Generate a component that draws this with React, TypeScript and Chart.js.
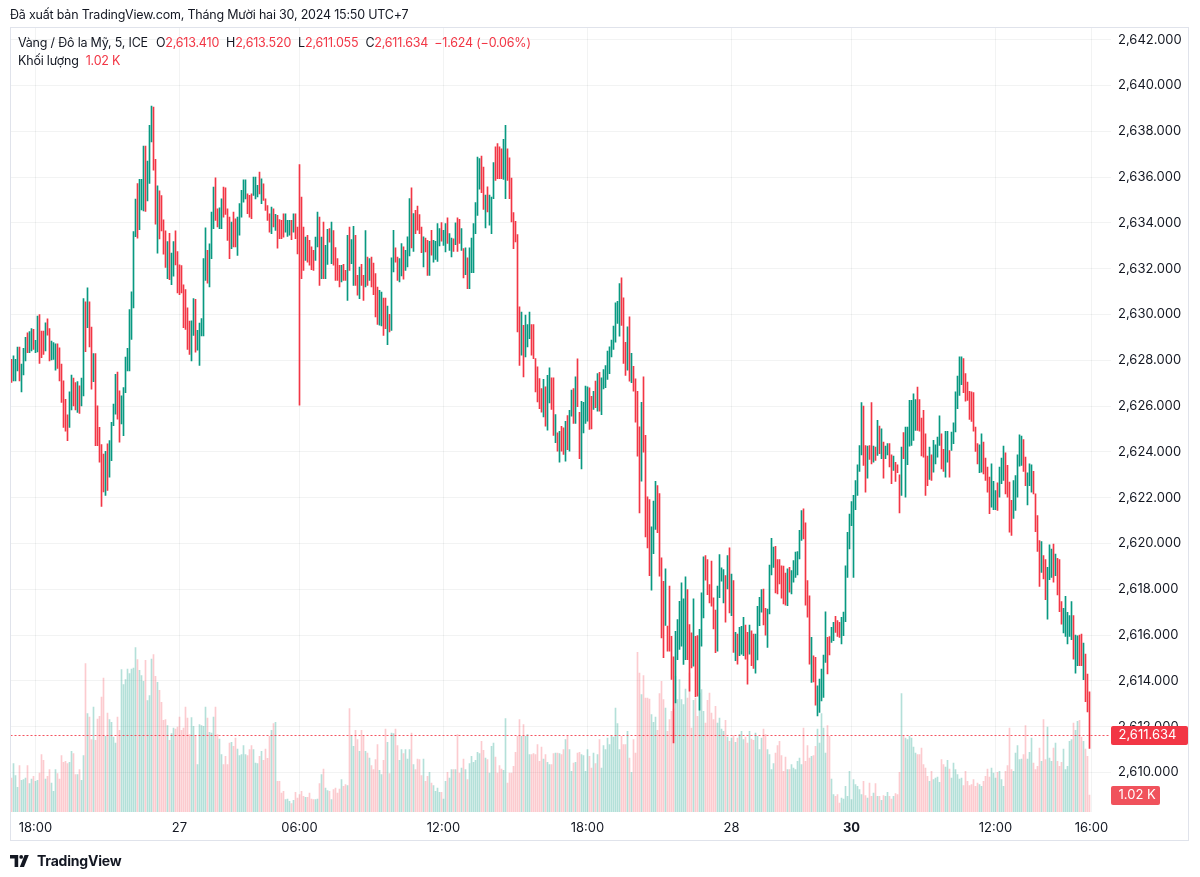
import React, { useEffect, useRef } from 'react';
import { Chart, registerables } from 'chart.js';

Chart.register(...registerables);

const UP = '#089981';
const DOWN = '#F23645';
const TEXT = '#131722';
const GRID = 'rgba(42,46,57,0.06)';
const FONT = 'Inter, "Noto Sans", sans-serif';

// 5-minute bars, Dec 26 17:00 -> Dec 30 15:50 (UTC+7)
const highs = [
  2628.04, 2628.19, 2628.04, 2628.58, 2628.58, 2627.83, 2628.52, 2629.00, 2629.20, 2629.25,
  2629.38, 2629.35, 2628.87, 2629.93, 2630.00, 2629.28, 2629.28, 2629.64, 2629.81, 2629.38,
  2628.84, 2628.77, 2628.72, 2628.72, 2628.55, 2627.83, 2627.10, 2626.30, 2625.62, 2626.62,
  2627.35, 2627.22, 2627.03, 2627.07, 2626.88, 2627.22, 2630.70, 2630.55, 2631.16, 2630.55,
  2629.45, 2628.29, 2628.29, 2626.01, 2625.07, 2624.32, 2623.91, 2624.03, 2624.35, 2624.49,
  2625.29, 2626.09, 2627.39, 2627.49, 2626.67, 2626.45, 2626.81, 2628.14, 2628.52, 2630.22,
  2630.99, 2633.62, 2635.04, 2635.72, 2635.90, 2635.90, 2637.36, 2637.36, 2636.70, 2638.26,
  2639.10, 2639.06, 2636.78, 2635.62, 2635.40, 2635.19, 2634.13, 2633.65, 2633.19, 2633.55,
  2632.68, 2633.19, 2633.65, 2632.75, 2632.17, 2632.14, 2631.30, 2631.09, 2630.29, 2629.71,
  2629.72, 2630.69, 2630.66, 2629.31, 2629.63, 2629.82, 2632.44, 2633.79, 2632.80, 2633.09,
  2634.47, 2635.56, 2635.97, 2634.62, 2634.66, 2635.05, 2635.56, 2635.53, 2634.62, 2634.25,
  2634.04, 2634.47, 2634.18, 2634.25, 2634.84, 2635.42, 2635.88, 2635.88, 2635.27, 2635.20,
  2635.27, 2636.00, 2636.00, 2635.64, 2636.22, 2635.93, 2635.71, 2635.05, 2634.76, 2634.40,
  2634.69, 2634.62, 2634.37, 2634.33, 2634.14, 2634.11, 2634.40, 2634.40, 2634.11, 2634.11,
  2634.11, 2634.40, 2634.40, 2633.82, 2636.55, 2635.13, 2633.82, 2633.38, 2633.46, 2633.24,
  2632.95, 2632.80, 2633.38, 2634.47, 2634.25, 2633.38, 2634.04, 2633.02, 2633.72, 2633.75,
  2634.04, 2633.67, 2632.92, 2632.44, 2632.15, 2632.15, 2632.19, 2631.93, 2633.46, 2633.82,
  2633.27, 2633.85, 2633.46, 2631.71, 2632.07, 2632.19, 2631.71, 2633.67, 2632.51, 2632.44,
  2632.51, 2632.25, 2631.79, 2631.20, 2631.06, 2630.98, 2630.72, 2630.72, 2630.37, 2630.01,
  2632.47, 2633.68, 2632.91, 2632.51, 2632.44, 2633.10, 2632.95, 2632.80, 2633.39, 2635.06,
  2635.53, 2634.41, 2634.55, 2634.74, 2634.36, 2633.82, 2633.39, 2633.34, 2633.24, 2633.20,
  2633.68, 2633.24, 2633.20, 2633.97, 2633.75, 2634.01, 2633.68, 2633.97, 2634.22, 2633.53,
  2633.34, 2633.31, 2634.00, 2634.22, 2634.16, 2633.75, 2632.88, 2632.91, 2632.47, 2632.91,
  2633.34, 2633.97, 2634.89, 2636.88, 2636.81, 2636.92, 2636.44, 2635.21, 2635.57, 2635.21,
  2635.13, 2636.63, 2637.32, 2637.46, 2637.32, 2637.24, 2637.65, 2638.26, 2637.24, 2636.84,
  2635.96, 2634.45, 2634.07, 2633.49, 2630.33, 2630.11, 2629.53, 2629.97, 2629.56, 2630.11,
  2629.56, 2629.56, 2628.07, 2627.71, 2627.20, 2626.76, 2627.17,
  2626.84, 2627.34, 2627.67, 2627.23, 2627.23, 2625.63, 2624.83, 2624.90, 2625.12, 2625.05,
  2625.34, 2625.59, 2625.82, 2626.70, 2626.76, 2627.28, 2628.06, 2625.73, 2626.21, 2626.17,
  2626.87, 2626.84, 2626.80, 2626.43, 2626.65, 2627.09, 2627.42, 2627.48, 2627.23, 2627.60,
  2627.77, 2628.40, 2628.59, 2628.88, 2629.49, 2630.51, 2630.58, 2631.35, 2631.60, 2630.73,
  2628.79, 2629.46, 2629.90, 2628.30, 2627.74, 2627.19, 2626.65, 2625.10, 2626.17, 2627.28,
  2624.72, 2622.04, 2621.92, 2620.73, 2621.85, 2622.72, 2622.53, 2622.18, 2619.37, 2618.35,
  2618.89, 2616.39, 2618.14, 2615.95, 2615.05, 2616.17, 2616.68, 2617.48, 2618.28, 2617.58,
  2618.54, 2617.99, 2616.46, 2616.10, 2617.58, 2615.95, 2615.98, 2616.25, 2617.85, 2619.42,
  2619.47, 2619.30, 2618.21, 2619.23, 2617.63, 2617.09, 2618.14, 2619.52, 2618.94, 2618.86,
  2618.60, 2619.47, 2619.81,
  2618.67, 2618.38, 2616.12, 2616.05, 2616.34, 2616.38, 2616.78, 2616.44, 2616.12, 2616.44,
  2616.19, 2616.05, 2616.05, 2617.26, 2617.65, 2617.99, 2618.01, 2617.17, 2617.14, 2619.06,
  2620.23, 2619.84, 2619.88, 2619.30, 2619.30, 2619.03, 2619.01, 2618.71, 2618.89, 2618.96,
  2618.82, 2619.25, 2619.62, 2619.65, 2620.57, 2621.44, 2621.51, 2620.90, 2618.38, 2617.72,
  2615.90, 2615.10, 2615.03, 2613.79, 2614.08, 2614.52, 2615.13, 2617.02, 2615.90, 2615.94,
  2616.34, 2616.56, 2616.82, 2616.63, 2616.56, 2616.78, 2617.00, 2619.03, 2620.49, 2621.29,
  2621.83, 2622.10, 2622.75, 2623.44, 2624.28, 2626.15, 2626.00, 2624.28, 2624.25, 2624.28,
  2626.15, 2624.25, 2624.21, 2625.38, 2625.13, 2625.01, 2624.43, 2624.25, 2624.36, 2624.36,
  2623.87, 2623.82, 2623.55, 2623.44, 2623.00, 2624.21, 2624.84, 2625.08, 2625.08, 2626.25,
  2626.25, 2626.54, 2626.29, 2626.83, 2626.29, 2625.48, 2625.81, 2624.79, 2623.82, 2624.21,
  2623.87, 2624.50, 2624.31, 2624.65, 2625.57, 2624.79, 2624.11, 2624.90, 2624.90, 2624.06,
  2624.87, 2625.27, 2626.62, 2627.31, 2628.15, 2628.15, 2628.07, 2627.42, 2627.05, 2626.64,
  2626.62, 2626.59, 2625.08, 2624.36, 2624.31, 2624.79, 2624.43, 2623.73, 2623.34, 2622.90,
  2623.48, 2622.71, 2622.31, 2622.65, 2623.34, 2623.73, 2624.25, 2623.96, 2623.41, 2622.68,
  2621.88, 2622.75, 2622.97, 2623.87, 2624.75, 2624.69, 2624.54, 2623.77, 2623.09, 2623.48,
  2623.44, 2623.15, 2622.17, 2621.22, 2620.13, 2620.08, 2619.47, 2619.30, 2618.96, 2619.94,
  2619.76, 2619.98, 2619.54, 2619.35, 2619.30, 2617.46, 2617.17, 2617.69, 2616.99, 2616.85,
  2617.46, 2616.85, 2616.00, 2615.97, 2616.00, 2616.05, 2615.65, 2615.17, 2614.30, 2613.52,
];

const lows = [
  2627.03, 2627.10, 2627.10, 2627.54, 2627.10, 2626.62, 2627.36, 2627.97, 2628.33, 2628.33,
  2628.41, 2628.48, 2628.33, 2628.37, 2627.86, 2628.12, 2628.26, 2628.41, 2629.10, 2627.97,
  2628.02, 2628.04, 2627.57, 2627.65, 2627.10, 2626.16, 2625.07, 2624.90, 2624.49, 2625.07,
  2625.83, 2626.01, 2625.83, 2625.72, 2625.68, 2626.01, 2626.45, 2628.38, 2629.42, 2628.58,
  2626.74, 2627.07, 2624.27, 2624.27, 2623.55, 2621.62, 2622.25, 2622.10, 2622.32, 2622.90,
  2623.62, 2625.15, 2625.65, 2625.43, 2624.42, 2625.22, 2624.71, 2626.59, 2627.54, 2627.54,
  2628.91, 2630.29, 2633.40, 2633.33, 2633.70, 2634.57, 2634.52, 2634.50, 2634.96, 2635.72,
  2637.54, 2636.30, 2633.94, 2632.68, 2633.30, 2633.65, 2632.64, 2632.06, 2631.56, 2631.52,
  2631.30, 2631.67, 2632.17, 2630.94, 2630.87, 2630.94, 2629.42, 2629.35, 2628.48, 2628.26,
  2627.97, 2629.09, 2628.36, 2628.44, 2627.78, 2629.06, 2629.06, 2631.49, 2631.37, 2631.20,
  2632.44, 2633.75, 2634.11, 2633.82, 2633.75, 2633.75, 2634.25, 2634.37, 2633.24, 2632.44,
  2632.87, 2632.95, 2632.95, 2632.58, 2633.46, 2634.25, 2634.91, 2635.05, 2634.40, 2634.25,
  2634.18, 2635.20, 2635.05, 2635.13, 2635.27, 2634.84, 2634.98, 2634.55, 2634.11, 2633.60,
  2633.53, 2633.82, 2633.67, 2632.90, 2633.31, 2633.31, 2633.38, 2633.60, 2633.41, 2633.46,
  2633.27, 2633.60, 2633.31, 2632.65, 2626.04, 2631.56, 2631.93, 2632.36, 2632.29, 2632.15,
  2631.96, 2631.93, 2632.36, 2632.95, 2631.27, 2631.56, 2631.56, 2631.56, 2632.19, 2633.16,
  2632.22, 2632.15, 2631.49, 2631.49, 2631.20, 2631.42, 2631.49, 2631.49, 2630.62, 2631.93,
  2632.22, 2631.27, 2631.27, 2630.84, 2630.69, 2631.27, 2630.62, 2631.20, 2631.27, 2631.49,
  2631.20, 2630.87, 2629.89, 2629.57, 2629.53, 2629.50, 2629.09, 2629.38, 2628.68, 2629.24,
  2629.31, 2631.86, 2632.29, 2631.49, 2631.42, 2631.68, 2631.54, 2631.93, 2632.08, 2632.56,
  2632.91, 2632.76, 2633.53, 2633.68, 2633.53, 2632.70, 2632.08, 2632.73, 2631.71, 2631.71,
  2632.59, 2632.29, 2632.41, 2632.32, 2632.99, 2633.20, 2633.02, 2632.73, 2633.10, 2632.80,
  2632.51, 2632.76, 2633.05, 2632.76, 2633.10, 2632.80, 2631.60, 2631.74, 2631.13, 2631.13,
  2631.83, 2631.83, 2633.53, 2634.33, 2635.47, 2635.32, 2634.59, 2633.78, 2634.48, 2633.90,
  2633.53, 2635.06, 2635.86, 2635.93, 2635.93, 2635.93, 2635.90, 2635.06, 2635.86, 2635.06,
  2634.04, 2632.88, 2633.17, 2629.24, 2627.78, 2628.22, 2627.27, 2628.15, 2628.58, 2628.95,
  2628.22, 2628.07, 2626.62, 2626.18, 2625.89, 2625.74, 2625.53,
  2625.12, 2624.95, 2626.14, 2625.85, 2624.72, 2624.40, 2624.03, 2623.55, 2624.03, 2623.89,
  2623.60, 2624.10, 2624.03, 2625.56, 2625.24, 2625.24, 2625.97, 2623.70, 2623.26, 2624.83,
  2625.24, 2625.34, 2624.98, 2625.00, 2625.85, 2625.93, 2625.78, 2625.78, 2625.63, 2626.75,
  2626.80, 2627.16, 2627.42, 2628.15, 2628.47, 2628.79, 2629.61, 2629.05, 2629.52, 2627.86,
  2627.34, 2627.57, 2627.09, 2627.02, 2626.65, 2625.30, 2623.81, 2621.34, 2622.72, 2623.99,
  2620.29, 2619.81, 2618.60, 2617.96, 2619.56, 2620.61, 2620.47, 2618.57, 2615.88, 2615.01,
  2616.42, 2615.30, 2615.30, 2614.06, 2611.29, 2613.04, 2614.93, 2615.37, 2615.52, 2614.72,
  2614.93, 2614.93, 2613.55, 2614.57, 2614.64, 2613.31, 2613.33, 2612.72, 2615.52, 2616.75,
  2618.40, 2617.77, 2617.41, 2617.26, 2616.27, 2615.23, 2615.30, 2617.63, 2618.35, 2617.41,
  2616.56, 2618.02, 2616.97,
  2616.85, 2615.24, 2614.88, 2614.73, 2615.10, 2615.17, 2615.10, 2614.95, 2613.86, 2615.17,
  2614.66, 2614.54, 2614.34, 2614.92, 2616.41, 2617.00, 2616.44, 2616.00, 2615.46, 2616.92,
  2618.63, 2618.96, 2617.84, 2617.80, 2618.23, 2617.61, 2617.36, 2617.31, 2617.29, 2617.87,
  2617.80, 2618.31, 2618.52, 2618.63, 2619.33, 2620.13, 2620.20, 2617.31, 2616.78, 2614.73,
  2613.93, 2613.96, 2612.94, 2612.47, 2612.62, 2613.13, 2613.28, 2614.81, 2614.30, 2615.13,
  2615.68, 2615.76, 2616.12, 2615.94, 2615.90, 2615.61, 2615.97, 2616.59, 2618.52, 2619.76,
  2620.78, 2618.52, 2621.48, 2622.10, 2623.15, 2623.87, 2623.41, 2622.24, 2622.85, 2623.67,
  2623.48, 2623.55, 2623.63, 2623.85, 2623.92, 2623.70, 2622.85, 2623.70, 2623.87, 2623.34,
  2622.61, 2623.19, 2622.71, 2623.09, 2621.34, 2622.10, 2623.70, 2622.02, 2623.44, 2624.25,
  2624.28, 2624.50, 2624.94, 2624.94, 2624.90, 2623.82, 2623.77, 2622.10, 2622.53, 2622.80,
  2622.75, 2623.12, 2623.48, 2623.77, 2624.28, 2623.26, 2623.15, 2622.90, 2623.55, 2622.90,
  2624.06, 2624.36, 2624.87, 2625.89, 2626.47, 2626.94, 2626.59, 2626.21, 2626.25, 2625.42,
  2625.33, 2624.90, 2624.02, 2623.48, 2623.09, 2623.12, 2623.04, 2622.75, 2622.24, 2621.30,
  2621.59, 2621.48, 2621.48, 2621.44, 2622.02, 2622.61, 2622.75, 2622.17, 2622.02, 2620.49,
  2620.35, 2621.10, 2621.44, 2622.02, 2623.38, 2623.41, 2623.15, 2622.53, 2621.69, 2622.53,
  2622.24, 2622.17, 2620.52, 2619.65, 2618.13, 2618.74, 2618.45, 2617.55, 2616.70, 2618.42,
  2618.52, 2618.31, 2618.60, 2617.75, 2617.02, 2616.48, 2616.09, 2615.94, 2615.61, 2615.94,
  2615.80, 2614.95, 2614.34, 2614.66, 2614.66, 2614.66, 2614.05, 2613.09, 2612.65, 2611.055,
];

// u = bar closed above its open, d = closed below
const directions = [
  'duuuduuudu', 'uduudddudd', 'uuuddddddu', 'udduduudud', 'dudddddudu',
  'uuudduuuuu', 'uuuduuuduu', 'udduddddud', 'uudddddddd',
  'uuduuuuudu', 'uudduudddd', 'udduuuuudd', 'duuududddd', 'ududdddu' + 'uu',
  'dudddddudd', 'dduududuud', 'udddduddud', 'uudduddudu',
  'dddduuddud', 'uudduuduuu', 'dudddduddu', 'duuuuduudu', 'ududdududu',
  'uuuuuddudu', 'uudddduudd', 'ddddduduuu', 'ddddddu',
  'duuddududd', 'uduududduu', 'uuddududuu', 'uuuuuuuudd', 'dududdddud',
  'ddduuudddd', 'udddduuuuu', 'udddudduuu', 'dddddduuuu', 'dud',
  'ududuuuddu', 'dduuuudduu', 'uuddddddud', 'uuuuuudddd', 'udduuuuudd',
  'uuddduuuuu', 'uuuuuuddud', 'dudududuud', 'duddduduuu',
  'uuuddddddu', 'duuuudduud', 'uuuuuudddd', 'dddduudddd', 'uuuduuuddd',
  'duuuuudduu', 'uddddudduu', 'ududdduuu' + 'u', 'uduudduddd',
].join('').split('');

// volume in thousands of contracts
const volumesK = [
  2.04, 2.9, 2.18, 1.48, 2.78, 1.9, 1.94, 2.04, 2.78, 1.7, 1.98, 2.14, 1.84, 1.9, 2.34, 3.44, 3.1, 1.98,
  2.14, 2.54, 1.74, 1.24, 2.54, 2.3, 1.98, 3.38, 2.98, 3.04, 2.9, 2.98, 3.64, 3.5, 2.24, 2.24, 2.54, 1.9,
  3.38, 8.9, 5.9, 5.7, 4.34, 6.3, 4.3, 5.58, 5.74, 6.9, 8.04, 4.54, 5.94, 5.54, 5.38, 4.5, 4.14, 5.7,
  4.9, 8.54, 7.64, 7.94, 8.58, 8.3, 8.58, 8.64, 9.86, 9.14, 8.5, 8.18, 7.84, 9.1, 6.68, 6.98, 9.18, 9.44,
  8.14, 7.78, 7.3, 6.58, 5.5, 5.54, 5.18, 4.3, 4.7, 5.04, 4.98, 5.1, 5.7, 4.9, 5.04, 6.3, 5.64, 4.64,
  5.66, 5.14, 4.58, 2.84, 5.24,
  5.18, 5.14, 6.3, 5.64, 4.78, 4.74, 5.7, 6.3, 4.64, 4.38, 3.44,
  2.84, 3.34, 2.84, 4.14, 4.18, 3.94, 4.44, 3.78, 3.38, 3.44, 3.98, 3.44, 3.38, 3.74, 3.98, 3.74, 2.94,
  2.9, 3.34, 3.64, 3.1, 3.78, 3.22, 4.54, 4.9, 5.3, 5.38,
  1.84, 1.84, 1.14, 1.24, 0.74, 0.78, 0.64, 0.5, 0.7, 1.18, 0.84, 1.04, 1.24, 0.94, 0.88, 0.88, 1.14,
  0.78, 0.74, 0.74, 0.78,
  1.7, 2.24, 2.58, 1.44, 1.28, 1.24, 0.74, 1.34, 1.44, 1.14, 1.38, 1.94, 1.54, 1.64, 1.58,
  6.2, 4.54, 3.94, 4.9, 4.34, 3.64, 4.9, 4.54, 3.64, 3.54, 3.24, 2.78, 2.54, 3.14, 4.04, 2.5, 2.24, 3.1,
  4.98, 4.18, 2.3, 4.74, 4.7, 4.98, 3.98, 3.1, 3.74, 3.5, 3.74, 3.18, 3.74, 4.74, 2.84, 2.54, 3.18, 3.14,
  2.18, 3.18, 1.84, 2.14, 2.38, 1.74, 1.58, 1.24, 1.44, 1.18, 1.18, 0.78, 1.84,
  2.38, 2.04, 2.54, 2.54, 2.54, 4.64, 2.34, 2.64, 3.18, 2.54, 1.94, 2.9, 3.34, 2.98, 3.1, 3.58, 3.5, 4.24,
  3.7, 3.24, 3.14, 2.34, 3.94, 4.14, 3.3, 2.34, 2.78, 2.58, 2.5, 5.6, 1.74, 2.34, 2.34, 2.74, 3.58, 4.54,
  5.54, 4.54, 5.24, 4.54, 4.64, 3.44, 3.44, 3.5, 3.44, 4.04, 3.04, 3.9, 3.18, 3.44, 2.98, 2.84, 2.84, 3.5,
  3.54, 3.54, 3.5,
  3.44, 3.74, 4.34, 4.54, 3.74, 2.44, 2.94, 2.98, 3.54, 3.58, 3.44, 3.38, 2.44, 3.74, 3.34, 2.64,
  3.54, 2.9, 3.44, 4.34, 2.64, 3.98, 3.74, 4.44, 4.04, 4.54, 4.5, 6.24, 5.3, 3.74, 4.54, 4.04, 4.04, 4.84,
  3.24, 2.38, 4.34, 3.54,
  9.58, 8.34, 7.04, 8.18, 6.84, 6.84, 6.78, 5.84, 5.38,
  5.7, 4.9, 7.1, 7.84, 6.74, 6.24, 4.84, 5.54, 6.04,
  6.18, 8.14, 6.74, 7.94, 6.74, 6.44, 7.38, 6.84, 8.34, 5.04, 6.7, 6.84, 5.74, 7.14, 7.34, 6.04,
  5.34, 6.7, 7.14, 5.94, 5.54, 6.34, 5.34, 5.64, 4.98, 4.84, 5.5, 4.5, 4.24, 4.44, 4.58,
  4.18, 4.44, 4.64, 4.84, 4.34, 4.5, 4.14, 4.84, 4.38, 4.3, 4.74, 4.54, 3.74, 4.44, 4.98, 4.64,
  3.74, 3.44, 2.54, 2.9, 3.54, 3.98, 4.24, 3.38, 2.44, 3.3, 2.54, 2.54, 2.84, 2.64, 2.54,
  3.04, 3.24, 2.84, 5.04, 3.04, 3.98, 3.24, 3.34, 3.38, 3.94, 4.98, 4.14, 5.9, 5.04, 3.54, 5.18, 4.54,
  1.98, 1.04, 0.94, 1.04, 0.54, 0.84, 0.78, 1.54, 0.94, 2.44, 0.74, 1.94, 1.64, 1.54, 1.34, 1.04, 1.84,
  0.98, 0.84, 1.74, 0.94, 1.14, 1.7, 0.94, 0.94, 0.7, 0.98, 0.94, 1.18, 0.94, 0.78, 0.94, 1.1, 1.04, 2.38,
  7.1, 4.54, 4.44, 4.34, 4.54, 4.44, 3.9, 3.54, 3.44, 3.44, 3.84, 2.84, 2.64, 2.14, 1.84, 2.44, 1.94,
  2.04, 2.1, 1.78,
  3.14, 2.84, 2.7, 3.1, 2.58, 2.04, 2.94, 2.54, 2.24, 1.98, 2.04, 1.58, 2.44, 1.84, 1.58, 1.64, 1.94,
  1.54, 1.74, 1.64, 1.54, 1.84, 2.14, 2.58, 2.1, 2.64, 2.34, 2.04, 2.38,
  2.44, 1.94, 1.54, 2.44, 2.78, 5.04, 2.54, 2.44, 3.54, 3.98, 3.14, 3.18, 3.44, 5.18, 3.18, 3.58, 4.44,
  2.94, 2.54, 2.74, 3.84, 3.04,
  5.54, 3.14, 5.1, 3.24, 3.04, 3.84, 4.14, 3.04, 2.74, 2.98, 3.78, 2.54, 2.74, 4.24, 4.34, 5.34, 4.9,
  5.44, 5.5, 4.5, 4.24, 3.78, 3.34,
  1.02,
];

const lastOpen = 2613.41;
const lastHigh = 2613.52;
const lastLow = 2611.055;
const lastClose = 2611.634;
const lastChange = -1.624;
const lastChangePct = -0.06;
const lastVolumeK = 1.02;

const priceMin = 2608.275;
const priceMax = 2642.555;
const priceStep = 2;
const volumeAxisMaxK = 47.1;

const timeTickIndex = [12, 84, 144, 216, 288, 360, 420, 492, 540];
const timeTickText = ['18:00', '27', '06:00', '12:00', '18:00', '28', '30', '12:00', '16:00'];
const boldTickText = '30';
const emptySlotsRight = 10;

const fmtPrice = (v: number) =>
  v.toLocaleString('en-US', { minimumFractionDigits: 3, maximumFractionDigits: 3 });
const fmtSigned = (v: number, d: number) => (v < 0 ? '\u2212' : '+') + Math.abs(v).toFixed(d);

const overlayPlugin = {
  id: 'tvOverlay',
  afterDatasetsDraw(chart: any) {
    const { ctx, chartArea, scales } = chart;
    const y = Math.round(scales.y.getPixelForValue(lastClose)) + 0.5;
    ctx.save();
    ctx.strokeStyle = 'rgba(242,54,69,0.85)';
    ctx.lineWidth = 1;
    ctx.setLineDash([2, 2]);
    ctx.beginPath();
    ctx.moveTo(chartArea.left, y);
    ctx.lineTo(chartArea.right, y);
    ctx.stroke();
    ctx.restore();
  },
  afterDraw(chart: any) {
    const { ctx, chartArea, scales } = chart;
    const boxLeft = chartArea.right + 0.5;
    const drawBox = (cy: number, w: number, color: string, text: string) => {
      ctx.save();
      ctx.fillStyle = color;
      ctx.beginPath();
      (ctx as any).roundRect(boxLeft, Math.round(cy) - 9, w, 19, 2);
      ctx.fill();
      ctx.fillStyle = '#ffffff';
      ctx.font = `13px ${FONT}`;
      ctx.textBaseline = 'middle';
      ctx.textAlign = 'left';
      ctx.fillText(text, boxLeft + 7.5, Math.round(cy) + 0.5);
      ctx.restore();
    };
    drawBox(scales.y.getPixelForValue(lastClose), 77, DOWN, fmtPrice(lastClose));
    drawBox(scales.yv.getPixelForValue(lastVolumeK), 49, '#F0525C', `${lastVolumeK.toFixed(2)} K`);
    ctx.save();
    ctx.strokeStyle = '#e0e3eb';
    ctx.lineWidth = 1;
    ctx.strokeRect(10.5, 27.5, 1178, 813);
    ctx.restore();
  },
};

function TvLogo() {
  return (
    <svg width="22" height="12" viewBox="0 0 22 12" style={{ display: 'block' }}>
      <path d="M0 0h8.2v12H4.6V3.4H0z" fill={TEXT} />
      <circle cx="11.2" cy="1.9" r="1.9" fill={TEXT} />
      <path d="M14.6 0h4.2L14 12H9.8z" fill={TEXT} />
    </svg>
  );
}

const headerText: React.CSSProperties = {
  position: 'absolute',
  fontSize: 12.5,
  letterSpacing: '-0.2px',
  lineHeight: '18px',
  whiteSpace: 'nowrap',
};

export default function App() {
  const canvasRef = useRef<HTMLCanvasElement | null>(null);

  useEffect(() => {
    const canvas = canvasRef.current;
    if (!canvas) return;
    const labels = highs.map((_, i) => String(i));
    for (let k = 0; k < emptySlotsRight; k++) labels.push(String(highs.length + k));
    const priceColors = directions.map((d) => (d === 'u' ? UP : DOWN));
    const volColors = directions.map((d) =>
      d === 'u' ? 'rgba(8,153,129,0.3)' : 'rgba(242,54,69,0.26)'
    );

    const chart = new Chart(canvas, {
      type: 'bar',
      data: {
        labels,
        datasets: [
          {
            data: highs.map((h, i) => [lows[i], h]) as any,
            backgroundColor: priceColors,
            barThickness: 1,
            grouped: false,
            borderWidth: 0,
            borderSkipped: false,
            yAxisID: 'y',
            order: 0,
          } as any,
          {
            data: volumesK,
            backgroundColor: volColors,
            barThickness: 1,
            grouped: false,
            borderWidth: 0,
            yAxisID: 'yv',
            order: 1,
          } as any,
        ],
      },
      options: {
        responsive: false,
        animation: false,
        devicePixelRatio: 1,
        layout: { padding: { left: 10.5, top: 27, right: 11, bottom: 36 } },
        plugins: { legend: { display: false }, tooltip: { enabled: false } },
        scales: {
          x: {
            type: 'category',
            offset: true,
            grid: { color: GRID, drawTicks: false, offset: false },
            border: { display: false },
            afterBuildTicks: (scale: any) => {
              scale.ticks = timeTickIndex.map((v) => ({ value: v }));
            },
            afterFit: (scale: any) => {
              scale.height = 29;
            },
            ticks: {
              autoSkip: false,
              maxRotation: 0,
              padding: 8,
              color: TEXT,
              font: (c: any) => ({
                family: FONT,
                size: 13,
                weight:
                  c.tick && timeTickText[timeTickIndex.indexOf(c.tick.value)] === boldTickText
                    ? 'bold'
                    : 'normal',
              }),
              callback: (v: any) => timeTickText[timeTickIndex.indexOf(Number(v))] ?? '',
            },
          },
          y: {
            position: 'right',
            min: priceMin,
            max: priceMax,
            grid: { color: GRID, drawTicks: false },
            border: { display: false },
            afterFit: (scale: any) => {
              scale.width = 78.5;
            },
            ticks: {
              stepSize: priceStep,
              includeBounds: false,
              padding: 7.5,
              color: TEXT,
              font: { family: FONT, size: 13 },
              callback: (v: any) => fmtPrice(Number(v)),
            },
          },
          yv: { display: false, min: 0, max: volumeAxisMaxK },
        },
      } as any,
      plugins: [overlayPlugin],
    });
    return () => chart.destroy();
  }, []);

  const red = { color: DOWN };
  return (
    <div
      style={{
        position: 'absolute',
        left: 0,
        top: 0,
        width: 1200,
        height: 877,
        background: '#ffffff',
        fontFamily: FONT,
        color: TEXT,
        overflow: 'hidden',
      }}
    >
      <canvas ref={canvasRef} width={1200} height={877} style={{ position: 'absolute', left: 0, top: 0 }} />
      <div style={{ ...headerText, left: 10, top: 6 }}>
        Đã xuất bản TradingView.com, Tháng Mười hai 30, 2024 15:50 UTC+7
      </div>
      <div style={{ ...headerText, left: 18, top: 34 }}>
        <span>Vàng / Đô la Mỹ, 5, ICE</span>
        <span style={{ marginLeft: 8 }}>O</span>
        <span style={red}>{fmtPrice(lastOpen)}</span>
        <span style={{ marginLeft: 7 }}>H</span>
        <span style={red}>{fmtPrice(lastHigh)}</span>
        <span style={{ marginLeft: 7 }}>L</span>
        <span style={red}>{fmtPrice(lastLow)}</span>
        <span style={{ marginLeft: 7 }}>C</span>
        <span style={red}>{fmtPrice(lastClose)}</span>
        <span style={{ ...red, marginLeft: 6 }}>
          {fmtSigned(lastChange, 3)} ({fmtSigned(lastChangePct, 2)}%)
        </span>
      </div>
      <div style={{ ...headerText, left: 18, top: 52 }}>
        <span>Khối lượng</span>
        <span style={{ ...red, marginLeft: 7 }}>{lastVolumeK.toFixed(2)} K</span>
      </div>
      <div style={{ position: 'absolute', left: 10, top: 854, display: 'flex', alignItems: 'center', gap: 5 }}>
        <TvLogo />
        <span style={{ fontSize: 14, fontWeight: 700, lineHeight: '14px', letterSpacing: '-0.2px' }}>TradingView</span>
      </div>
    </div>
  );
}
